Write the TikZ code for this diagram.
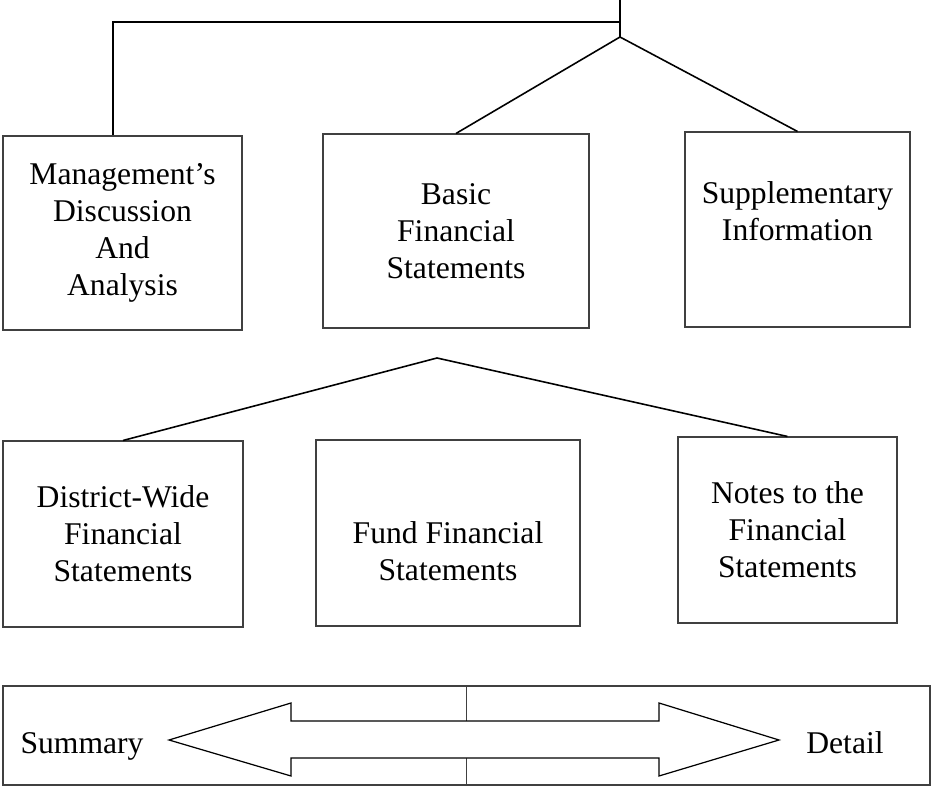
\documentclass[tikz,border=0pt]{standalone}
\usepackage{fontspec}
\setmainfont{Liberation Serif}
\usepackage{tikz}
\usetikzlibrary{positioning}
\colorlet{boxline}{black!75}
\tikzset{
  >=latex,
  part/.style 2 args={rectangle,draw=boxline,line width=0.6pt,align=center,inner sep=0pt,
    minimum width=#1*0.02cm,minimum height=#2*0.02cm,font=\fontsize{18}{21}\selectfont},
  connect/.style={line width=0.9pt,black},
  end label/.style={anchor=base,font=\fontsize{18}{21}\selectfont}
}

\begin{document}
\begin{tikzpicture}[x=0.02cm,y=-0.02cm]
    \useasboundingbox (0,0) rectangle (931,787);

    % Top row of boxes
    \node[part={239}{194}] (mda) at (122.5,233) {Management's\\Discussion\\And\\Analysis};
    \node[part={266}{194}] (bfs) at (456,231) {Basic\\Financial\\Statements};
    \node[part={225}{195}] (supp) at (797.5,229.5) {Supplementary\\Information\\\mbox{}};

    % Second row of boxes
    \node[part={240}{186}] (dwfs) at (123,534) {District-Wide\\Financial\\Statements};
    \node[part={264}{186}] (ffs) at (448,533) {\vphantom{F}\\Fund Financial\\Statements};
    \node[part={219}{186}] (notes) at (787.5,530) {Notes to the\\Financial\\Statements};

    % Connectors from the top
    \coordinate (top) at (620,0);
    \coordinate (hub) at (620,37);
    \coordinate (split) at (620,22);
    \coordinate (elbow) at (113,22);
    \draw[connect] (top) -- (hub);
    \draw[connect] (split) -- (elbow) -- (elbow |- mda.north);
    \draw[connect] (bfs.north) -- (hub) -- (supp.north);

    % Connectors of the second row
    \coordinate (fork) at (437,358);
    \draw[connect] (dwfs.north) -- (fork) -- (notes.north);

    % Summary / detail scale
    \node[part={927}{99}] (range) at (466.5,735.5) {};
    \draw[boxline,line width=0.6pt] (range.north) -- (range.south);
    \draw[line width=0.7pt,fill=white] (169,740) -- (291,703) -- (291,721) -- (659,721)
        -- (659,703) -- (779,740) -- (659,776) -- (659,758) -- (291,758) -- (291,776) -- cycle;
    \node[end label] (summary) at (82,753) {Summary};
    \node[end label] (detail) at (845,753) {Detail};
\end{tikzpicture}
\end{document}
